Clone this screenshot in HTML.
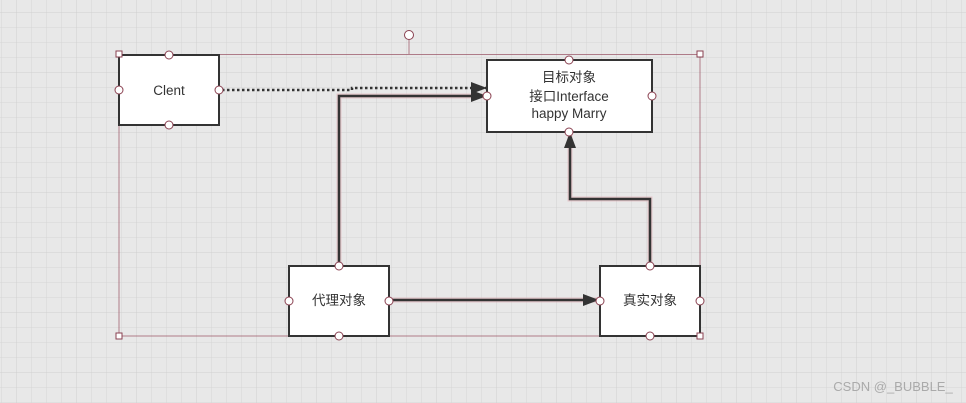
<!DOCTYPE html>
<html><head><meta charset="utf-8"><style>
html,body{margin:0;padding:0;width:966px;height:403px;overflow:hidden;background:#e8e8e8}
svg{display:block}
</style></head><body>
<svg width="966" height="403" xmlns="http://www.w3.org/2000/svg">
<defs>
<pattern id="g" x="1.5" y="12.5" width="15" height="15" patternUnits="userSpaceOnUse">
<path d="M0 0V15M0 0H15" stroke="#d6d6d6" stroke-width="1" fill="none"/>
</pattern>
<pattern id="G" x="16.5" y="12.5" width="60" height="60" patternUnits="userSpaceOnUse">
<path d="M0 0V60M0 0H60" stroke="#cfcfcf" stroke-width="1" fill="none"/>
</pattern>
<marker id="a" markerWidth="16" markerHeight="12" refX="15" refY="6" orient="auto" markerUnits="userSpaceOnUse">
<path d="M0 0L16 6L0 12Z" fill="#333"/>
</marker>
</defs>
<rect width="966" height="403" fill="#e8e8e8"/>
<rect width="966" height="403" fill="url(#g)"/>
<rect width="966" height="403" fill="url(#G)"/>
<rect x="119" y="54.5" width="581" height="281.5" fill="none" stroke="#a06070" stroke-width="0.8"/>
<line x1="409" y1="40" x2="409" y2="54" stroke="#a06070" stroke-width="0.8"/>
<circle cx="409" cy="35" r="4.5" fill="#fff" stroke="#8a4050"/>
<g stroke="#e0b0b8" stroke-width="5" fill="none" opacity="0.6">
<path d="M339 266V96H484"/><path d="M389 300H598"/><path d="M650 266V199H570V134"/>
</g>
<path d="M222 90H352V88H486" stroke="#333" stroke-width="2.5" stroke-dasharray="2.5 2.5" fill="none" marker-end="url(#a)"/>
<path d="M339 266V96H486" stroke="#333" stroke-width="2.5" fill="none" marker-end="url(#a)"/>
<path d="M389 300H598" stroke="#333" stroke-width="2.5" fill="none" marker-end="url(#a)"/>
<path d="M650 266V199H570V133" stroke="#333" stroke-width="2.5" fill="none" marker-end="url(#a)"/>
<g fill="#fff" stroke="#333" stroke-width="2">
<rect x="119" y="55" width="100" height="70"/>
<rect x="487" y="60" width="165" height="72"/>
<rect x="289" y="266" width="100" height="70"/>
<rect x="600" y="266" width="100" height="70"/>
</g>
<g font-family="'Liberation Sans','Noto Sans CJK SC',sans-serif" font-size="13.5" fill="#333" text-anchor="middle">
<text x="169" y="95">Clent</text>
<text x="569" y="82">目标对象</text>
<text x="569" y="101">接口Interface</text>
<text x="569" y="118">happy Marry</text>
<text x="339" y="305">代理对象</text>
<text x="650" y="305">真实对象</text>
</g>
<g fill="#fff" stroke="#8a4050" stroke-width="1">
<circle cx="169" cy="55" r="4"/><circle cx="169" cy="125" r="4"/><circle cx="119" cy="90" r="4"/><circle cx="219" cy="90" r="4"/>
<circle cx="569" cy="60" r="4"/><circle cx="569" cy="132" r="4"/><circle cx="487" cy="96" r="4"/><circle cx="652" cy="96" r="4"/>
<circle cx="339" cy="266" r="4"/><circle cx="339" cy="336" r="4"/><circle cx="289" cy="301" r="4"/><circle cx="389" cy="301" r="4"/>
<circle cx="650" cy="266" r="4"/><circle cx="650" cy="336" r="4"/><circle cx="600" cy="301" r="4"/><circle cx="700" cy="301" r="4"/>
<rect x="116" y="51" width="6" height="6"/><rect x="697" y="51" width="6" height="6"/>
<rect x="116" y="333" width="6" height="6"/><rect x="697" y="333" width="6" height="6"/>
</g>
<text x="893" y="391" font-family="'Liberation Sans',sans-serif" font-size="13" fill="#aaa" text-anchor="middle">CSDN @_BUBBLE_</text>
</svg>
</body></html>
